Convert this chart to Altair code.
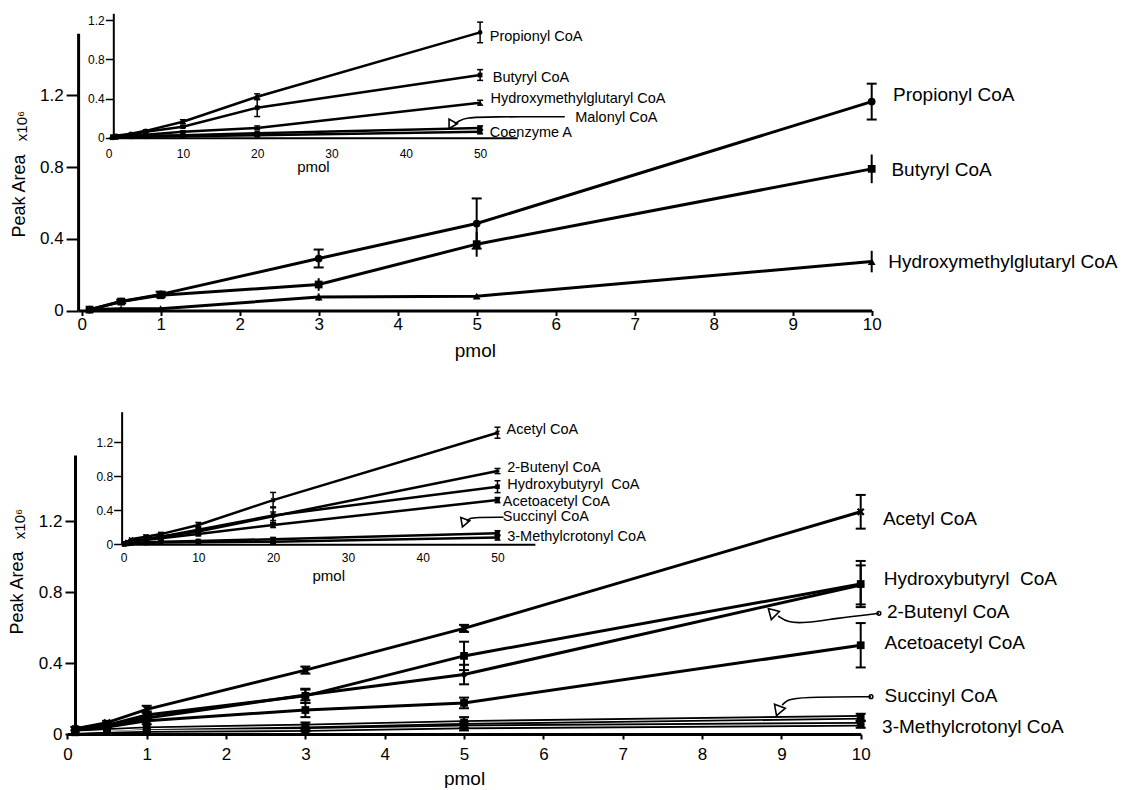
import altair as alt
import pandas as pd

W, H = 1110, 772
FONT = "Liberation Sans"

# ---------------- data ----------------
main_pmol = [0.1, 0.5, 1, 3, 5, 10]
propionyl_main = [0.005, 0.05, 0.09, 0.29, 0.485, 1.165]
propionyl_main_err = [0.0, 0.01, 0.015, 0.05, 0.14, 0.10]
butyryl_main = [0.005, 0.05, 0.085, 0.145, 0.37, 0.79]
butyryl_main_err = [0.0, 0.0, 0.01, 0.035, 0.07, 0.08]
hmg_main = [0.005, 0.01, 0.01, 0.075, 0.08, 0.273]
hmg_main_err = [0.0, 0.0, 0.0, 0.02, 0.01, 0.06]

top_inset_pmol = [0.5, 1, 3, 5, 10, 20, 50]
propionyl_inset = [0.01, 0.02, 0.04, 0.07, 0.163, 0.418, 1.075]
propionyl_inset_err = [0.0, 0.0, 0.0, 0.01, 0.02, 0.03, 0.105]
butyryl_inset = [0.01, 0.015, 0.03, 0.06, 0.112, 0.306, 0.64]
butyryl_inset_err = [0.0, 0.0, 0.0, 0.01, 0.01, 0.09, 0.055]
hmg_inset = [0.005, 0.01, 0.02, 0.03, 0.06, 0.10, 0.357]
hmg_inset_err = [0.0, 0.0, 0.0, 0.0, 0.01, 0.02, 0.025]
malonyl_inset = [0.0, 0.005, 0.01, 0.02, 0.025, 0.045, 0.10]
malonyl_inset_err = [0.0, 0.0, 0.0, 0.0, 0.0, 0.01, 0.02]
coa_inset = [0.0, 0.005, 0.01, 0.01, 0.015, 0.025, 0.06]
coa_inset_err = [0.0, 0.0, 0.0, 0.0, 0.0, 0.01, 0.02]

acetyl_main = [0.03, 0.064, 0.139, 0.36, 0.595, 1.252]
acetyl_main_err = [0.01, 0.01, 0.02, 0.02, 0.02, 0.095]
hydroxybutyryl_main = [0.02, 0.05, 0.107, 0.215, 0.44, 0.845]
hydroxybutyryl_main_err = [0.0, 0.01, 0.02, 0.04, 0.08, 0.13]
butenyl_main = [0.02, 0.045, 0.09, 0.22, 0.335, 0.84]
butenyl_main_err = [0.0, 0.0, 0.01, 0.03, 0.055, 0.11]
acetoacetyl_main = [0.02, 0.04, 0.075, 0.135, 0.175, 0.50]
acetoacetyl_main_err = [0.0, 0.0, 0.02, 0.04, 0.03, 0.125]
succinyl_main = [0.01, 0.02, 0.03, 0.045, 0.065, 0.094]
succinyl_main_err = [0.0, 0.0, 0.0, 0.02, 0.03, 0.02]
mc_main = [0.01, 0.015, 0.02, 0.025, 0.04, 0.055]
mc_main_err = [0.0, 0.0, 0.0, 0.01, 0.02, 0.02]

bot_inset_pmol = [0.1, 0.5, 1, 3, 5, 10, 20, 50]
acetyl_inset = [0.01, 0.03, 0.06, 0.09, 0.12, 0.227, 0.52, 1.313]
acetyl_inset_err = [0.0, 0.0, 0.0, 0.02, 0.02, 0.03, 0.09, 0.065]
butenyl_inset = [0.01, 0.02, 0.04, 0.06, 0.09, 0.15, 0.33, 0.862]
butenyl_inset_err = [0.0, 0.0, 0.0, 0.0, 0.03, 0.03, 0.05, 0.03]
hydroxybutyryl_inset = [0.01, 0.02, 0.04, 0.06, 0.09, 0.17, 0.34, 0.678]
hydroxybutyryl_inset_err = [0.0, 0.0, 0.0, 0.02, 0.02, 0.04, 0.10, 0.07]
acetoacetyl_inset = [0.01, 0.02, 0.03, 0.05, 0.07, 0.12, 0.227, 0.52]
acetoacetyl_inset_err = [0.0, 0.0, 0.0, 0.0, 0.02, 0.02, 0.03, 0.03]
succinyl_inset = [0.0, 0.01, 0.015, 0.02, 0.03, 0.04, 0.06, 0.13]
succinyl_inset_err = [0.0, 0.0, 0.0, 0.0, 0.0, 0.01, 0.02, 0.03]
mc_inset = [0.0, 0.005, 0.01, 0.015, 0.02, 0.025, 0.03, 0.08]
mc_inset_err = [0.0, 0.0, 0.0, 0.0, 0.0, 0.01, 0.02, 0.03]

ALL_SERIES = ["Propionyl CoA", "Butyryl CoA", "Hydroxymethylglutaryl CoA", "Malonyl CoA",
              "Coenzyme A", "Acetyl CoA", "2-Butenyl CoA", "Hydroxybutyryl CoA",
              "Acetoacetyl CoA", "Succinyl CoA", "3-Methylcrotonyl CoA"]
XPATH = "M-1,-0.6L-0.6,-1L0,-0.4L0.6,-1L1,-0.6L0.4,0L1,0.6L0.6,1L0,0.4L-0.6,1L-1,0.6L-0.4,0Z"
SHAPES = ["circle", "square", "triangle-up", "square", "square", XPATH, "diamond", "square",
          "square", "square", "square"]


def make_df(xs, items):
    rows = []
    for name, ys, errs, cap in items:
        for x, y, e in zip(xs, ys, errs):
            rows.append({"series": name, "x": x, "y": y, "lo": y - e, "hi": y + e,
                         "err": e, "cap": cap})
    return pd.DataFrame(rows)


df_top_main = make_df(main_pmol, [
    ("Propionyl CoA", propionyl_main, propionyl_main_err, True),
    ("Butyryl CoA", butyryl_main, butyryl_main_err, False),
    ("Hydroxymethylglutaryl CoA", hmg_main, hmg_main_err, False)])
df_top_inset = make_df(top_inset_pmol, [
    ("Propionyl CoA", propionyl_inset, propionyl_inset_err, True),
    ("Butyryl CoA", butyryl_inset, butyryl_inset_err, True),
    ("Hydroxymethylglutaryl CoA", hmg_inset, hmg_inset_err, True),
    ("Malonyl CoA", malonyl_inset, malonyl_inset_err, True),
    ("Coenzyme A", coa_inset, coa_inset_err, True)])
df_bot_main = make_df(main_pmol, [
    ("Acetyl CoA", acetyl_main, acetyl_main_err, True),
    ("Hydroxybutyryl CoA", hydroxybutyryl_main, hydroxybutyryl_main_err, True),
    ("2-Butenyl CoA", butenyl_main, butenyl_main_err, True),
    ("Acetoacetyl CoA", acetoacetyl_main, acetoacetyl_main_err, True),
    ("Succinyl CoA", succinyl_main, succinyl_main_err, True),
    ("3-Methylcrotonyl CoA", mc_main, mc_main_err, True)])
df_bot_inset = make_df(bot_inset_pmol, [
    ("Acetyl CoA", acetyl_inset, acetyl_inset_err, True),
    ("2-Butenyl CoA", butenyl_inset, butenyl_inset_err, True),
    ("Hydroxybutyryl CoA", hydroxybutyryl_inset, hydroxybutyryl_inset_err, True),
    ("Acetoacetyl CoA", acetoacetyl_inset, acetoacetyl_inset_err, True),
    ("Succinyl CoA", succinyl_inset, succinyl_inset_err, True),
    ("3-Methylcrotonyl CoA", mc_inset, mc_inset_err, True)])

HB = "Hydroxybutyryl\u00a0 CoA"
lab_top_main = pd.DataFrame({
    "label": ["Propionyl CoA", "Butyryl CoA", "Hydroxymethylglutaryl CoA"],
    "lx": [10.27, 10.25, 10.21], "ly": [1.202, 0.784, 0.272]})
lab_top_inset = pd.DataFrame({
    "label": ["Propionyl CoA", "Butyryl CoA", "Hydroxymethylglutaryl CoA", "Malonyl CoA", "Coenzyme A"],
    "lx": [51.3, 51.7, 51.4, 62.8, 51.3], "ly": [1.03, 0.606, 0.395, 0.198, 0.051]})
lab_bot_main = pd.DataFrame({
    "label": ["Acetyl CoA", HB, "2-Butenyl CoA", "Acetoacetyl CoA", "Succinyl CoA", "3-Methylcrotonyl CoA"],
    "lx": [10.28, 10.29, 10.33, 10.30, 10.30, 10.27],
    "ly": [1.211, 0.872, 0.689, 0.511, 0.214, 0.038]})
lab_bot_inset = pd.DataFrame({
    "label": ["Acetyl CoA", "2-Butenyl CoA", HB, "Acetoacetyl CoA", "Succinyl CoA", "3-Methylcrotonyl CoA"],
    "lx": [51.2, 51.3, 51.3, 50.7, 50.7, 51.3],
    "ly": [1.345, 0.898, 0.698, 0.50, 0.318, 0.082]})

arr_top_inset = pd.DataFrame({"aid": ["m"] * 5, "k": [0, 1, 2, 3, 4],
                              "ax": [61.4, 51.3, 48.1, 47.1, 46.6],
                              "ay": [0.214, 0.214, 0.206, 0.17, 0.14]})
head_top_inset = pd.DataFrame({"hx": [46.1], "hy": [0.13], "ang": [210]})
arr_bot_inset = pd.DataFrame({"aid": ["s"] * 4, "k": [0, 1, 2, 3],
                              "ax": [50.8, 47.1, 46.2, 45.9],
                              "ay": [0.318, 0.318, 0.304, 0.268]})
head_bot_inset = pd.DataFrame({"hx": [45.5], "hy": [0.25], "ang": [200]})
arr_bot_main = pd.DataFrame({"aid": ["b"] * 5 + ["s"] * 4, "k": [0, 1, 2, 3, 4, 0, 1, 2, 3],
                             "ax": [10.23, 9.68, 9.30, 9.08, 8.96, 10.13, 9.24, 9.08, 9.01],
                             "ay": [0.680, 0.651, 0.625, 0.628, 0.665, 0.210, 0.208, 0.194, 0.163]})
head_bot_main = pd.DataFrame({"hx": [8.88, 8.96], "hy": [0.687, 0.13], "ang": [315, 200]})
dot_bot_main = pd.DataFrame({"hx": [10.23, 10.13], "hy": [0.680, 0.210]})

CFG = {
    "top_main": dict(xdom=[-0.045, 10], xr=[70.1, 863.7], ydom=[0, 1.546], yr=[302.5, 25.3],
                     yax=70.1, xticks=list(range(0, 11)), xtick=5, xlp=1, xtp=9, tfs=17, ttfs=19,
                     ytick=12, ylp=3, dw=3, tw=2, lw=3, ew=2, cw=5, ms=60, lfs=19, hs=130),
    "top_inset": dict(xdom=[0, 55], xr=[100.6, 509.25], ydom=[0, 1.27], yr=[129.7, 5.3],
                      yax=105.3, xticks=[0, 10, 20, 30, 40, 50], xtick=0, xlp=11, xtp=0, tfs=12,
                      ttfs=15, ytick=8, ylp=1, dw=2, tw=1.5, lw=2.5, ew=1.5, cw=3, ms=22, lfs=14.5,
                      hs=90),
    "bot_main": dict(xdom=[0, 10], xr=[59.4, 852.7], ydom=[0, 1.572], yr=[726, 447],
                     yax=67, xticks=list(range(0, 11)), xtick=5, xlp=7, xtp=7, tfs=17, ttfs=19,
                     ytick=10, ylp=3, dw=3, tw=2, lw=3, ew=2, cw=5, ms=60, lfs=19, hs=130),
    "bot_inset": dict(xdom=[-0.25, 55], xr=[113.63, 526.9], ydom=[0, 1.56], yr=[536.3, 403.7],
                      yax=113.63, xticks=[0, 10, 20, 30, 40, 50], xtick=0, xlp=8, xtp=5, tfs=12,
                      ttfs=15, ytick=8, ylp=1, dw=2, tw=1.5, lw=2.5, ew=1.5, cw=3, ms=22, lfs=14.5,
                      hs=90),
}


def panel(df, lab, c, arr=None, heads=None, dots=None, hollow=None):
    """Flat list of layers for one plot panel, all using the same explicit scales."""
    xs = alt.Scale(domain=c["xdom"], range=c["xr"], nice=False, zero=False)
    ys = alt.Scale(domain=c["ydom"], range=c["yr"], nice=False, zero=False)
    xa = alt.Axis(orient="bottom", offset=c["yr"][0] - H, values=c["xticks"], format="d",
                  ticks=c["xtick"] > 0, tickSize=c["xtick"], tickWidth=c["tw"], tickColor="black",
                  domainColor="black", domainWidth=c["dw"], labelFont=FONT, labelFontSize=c["tfs"],
                  labelColor="black", labelPadding=c["xlp"], labelFlush=False, labelOverlap=False,
                  title="pmol", titleFont=FONT, titleFontSize=c["ttfs"], titleFontWeight="normal",
                  titleColor="black", titlePadding=c["xtp"], grid=False)
    ya = alt.Axis(orient="left", offset=-c["yax"], values=[0, 0.4, 0.8, 1.2], format=".1~f",
                  ticks=True, tickSize=c["ytick"], tickWidth=c["tw"], tickColor="black",
                  domainColor="black", domainWidth=c["dw"], labelFont=FONT, labelFontSize=c["tfs"],
                  labelColor="black", labelPadding=c["ylp"], labelFlush=False, labelOverlap=False,
                  title="", grid=False)

    def X(f, ax=None):
        return alt.X(f, scale=xs, axis=ax) if ax is not None else alt.X(f, scale=xs, axis=None)

    def Y(f, ax=None):
        return alt.Y(f, scale=ys, axis=ax) if ax is not None else alt.Y(f, scale=ys, axis=None)

    base = alt.Chart(df)
    layers = [
        base.mark_line(color="black", strokeWidth=c["lw"]).encode(
            x=X("x:Q", xa), y=Y("y:Q", ya), detail="series:N"),
    ]
    if hollow:
        flt = " || ".join("datum.series === '%s'" % s for s in hollow)
        hb = base.transform_filter(flt)
        layers.append(hb.mark_line(color="black", strokeWidth=c["lw"] + 1.6).encode(
            x=X("x:Q"), y=Y("y:Q"), detail="series:N"))
        layers.append(hb.mark_line(color="white", strokeWidth=1.0).encode(
            x=X("x:Q"), y=Y("y:Q"), detail="series:N"))
    layers += [
        base.transform_filter("datum.err > 0").mark_rule(color="black", strokeWidth=c["ew"]).encode(
            x=X("x:Q"), y=Y("lo:Q"), y2="hi:Q"),
        base.transform_filter("datum.err > 0 && datum.cap").mark_rule(
            color="black", strokeWidth=c["ew"], xOffset=-c["cw"], x2Offset=c["cw"]).encode(
            x=X("x:Q"), x2="x:Q", y=Y("hi:Q")),
        base.transform_filter("datum.err > 0 && datum.cap").mark_rule(
            color="black", strokeWidth=c["ew"], xOffset=-c["cw"], x2Offset=c["cw"]).encode(
            x=X("x:Q"), x2="x:Q", y=Y("lo:Q")),
        base.mark_point(filled=True, color="black", opacity=1, size=c["ms"]).encode(
            x=X("x:Q"), y=Y("y:Q"),
            shape=alt.Shape("series:N", scale=alt.Scale(domain=ALL_SERIES, range=SHAPES), legend=None)),
        alt.Chart(lab).mark_text(align="left", baseline="middle", font=FONT, fontSize=c["lfs"],
                                 color="black").encode(x=X("lx:Q"), y=Y("ly:Q"), text="label:N"),
    ]
    if arr is not None:
        layers.append(alt.Chart(arr).mark_line(color="black", strokeWidth=1.6, interpolate="basis").encode(
            x=X("ax:Q"), y=Y("ay:Q"), detail="aid:N", order="k:Q"))
        layers.append(alt.Chart(heads).mark_point(shape="triangle-up", filled=False, color="black",
                                                  strokeWidth=1.6, size=c["hs"], opacity=1).encode(
            x=X("hx:Q"), y=Y("hy:Q"), angle=alt.Angle("ang:Q", scale=None)))
    if dots is not None:
        layers.append(alt.Chart(dots).mark_point(shape="circle", filled=False, color="black",
                                                 strokeWidth=1.5, size=14, opacity=1).encode(
            x=X("hx:Q"), y=Y("hy:Q")))
    return layers


def ytitle(px, py, px2, py2):
    t1 = alt.Chart(pd.DataFrame({"t": ["Peak Area"]})).mark_text(
        angle=270, font=FONT, fontSize=18, color="black", align="center", baseline="middle").encode(
        x=alt.value(px), y=alt.value(py), text="t:N")
    t2 = alt.Chart(pd.DataFrame({"t": ["x10\u2076"]})).mark_text(
        angle=270, font=FONT, fontSize=15, color="black", align="center", baseline="middle").encode(
        x=alt.value(px2), y=alt.value(py2), text="t:N")
    return [t1, t2]


all_layers = (panel(df_top_main, lab_top_main, CFG["top_main"])
              + panel(df_top_inset, lab_top_inset, CFG["top_inset"], arr_top_inset, head_top_inset)
              + panel(df_bot_main, lab_bot_main, CFG["bot_main"], arr_bot_main, head_bot_main,
                      dot_bot_main, hollow=["Succinyl CoA", "3-Methylcrotonyl CoA"])
              + panel(df_bot_inset, lab_bot_inset, CFG["bot_inset"], arr_bot_inset, head_bot_inset)
              + ytitle(12, 188, 14, 118) + ytitle(10, 585, 12, 516))

chart = alt.layer(*all_layers).resolve_scale(
    x="independent", y="independent").resolve_axis(
    x="independent", y="independent").properties(
    width=W, height=H, padding=0, background="white").configure_view(stroke=None)

chart.save("out.html", embed_options={"renderer": "svg", "actions": False})
